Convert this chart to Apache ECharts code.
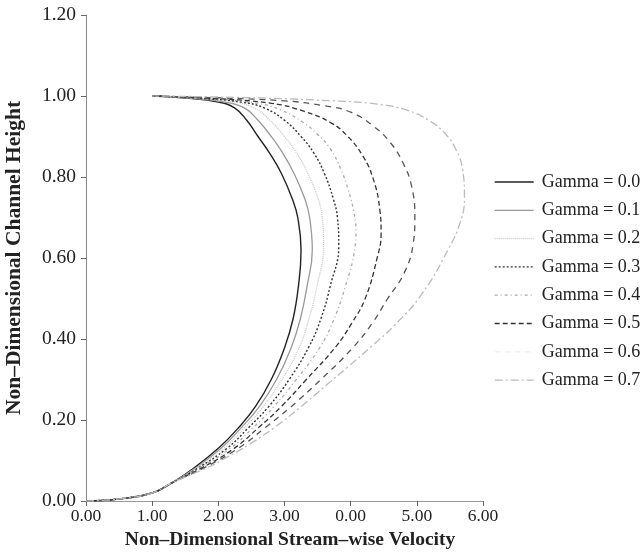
<!DOCTYPE html>
<html>
<head>
<meta charset="utf-8">
<script src="https://cdn.jsdelivr.net/npm/echarts@6/dist/echarts.min.js"></script>
<style>html,body{margin:0;padding:0;background:#fff}#c{width:644px;height:560px}</style>
</head>
<body>
<div id="c"></div>
<script>
var xTickLabels = ['0.00', '1.00', '2.00', '3.00', '0.00', '5.00', '6.00'];
var yTickLabels = ['0.00', '0.20', '0.40', '0.60', '0.80', '1.00', '1.20'];
var seriesNames = ['Gamma = 0.0', 'Gamma = 0.1', 'Gamma = 0.2', 'Gamma = 0.3', 'Gamma = 0.4', 'Gamma = 0.5', 'Gamma = 0.6', 'Gamma = 0.7'];

var gamma00 = [[0,0],[0.5,0.005],[1.0,0.02],[1.3,0.045],[1.62,0.08],[2.0,0.13],[2.3,0.18],[2.56,0.233],[2.8,0.3],[3.0,0.378],[3.13,0.45],[3.21,0.53],[3.25,0.62],[3.2,0.7],[3.12,0.745],[2.95,0.81],[2.77,0.86],[2.6,0.9],[2.43,0.94],[2.25,0.97],[2.0,0.985],[1.5,0.995],[1.0,1.0]];
var gamma01 = [[0,0],[0.5,0.005],[1.0,0.02],[1.3,0.045],[1.64,0.08],[2.04,0.13],[2.34,0.18],[2.62,0.233],[2.88,0.3],[3.1,0.378],[3.24,0.45],[3.34,0.53],[3.42,0.62],[3.38,0.7],[3.31,0.745],[3.14,0.81],[2.97,0.86],[2.8,0.9],[2.6,0.94],[2.4,0.97],[2.1,0.985],[1.55,0.995],[1.0,1.0]];
var gamma02 = [[0,0],[0.5,0.005],[1.0,0.02],[1.3,0.045],[1.66,0.08],[2.08,0.13],[2.39,0.18],[2.68,0.233],[2.96,0.3],[3.22,0.378],[3.37,0.45],[3.49,0.53],[3.59,0.63],[3.57,0.7],[3.51,0.745],[3.35,0.81],[3.18,0.86],[3.0,0.9],[2.78,0.94],[2.55,0.97],[2.25,0.985],[1.6,0.995],[1.0,1.0]];
var gamma03 = [[0,0],[0.5,0.005],[1.0,0.02],[1.3,0.045],[1.68,0.08],[2.13,0.13],[2.45,0.18],[2.76,0.233],[3.07,0.3],[3.36,0.378],[3.55,0.45],[3.69,0.53],[3.82,0.63],[3.8,0.7],[3.74,0.745],[3.6,0.81],[3.44,0.86],[3.25,0.9],[3.0,0.94],[2.7,0.97],[2.35,0.985],[1.65,0.995],[1.0,1.0]];
var gamma04 = [[0,0],[0.5,0.005],[1.0,0.02],[1.3,0.045],[1.7,0.08],[2.18,0.13],[2.52,0.18],[2.84,0.233],[3.18,0.3],[3.53,0.378],[3.75,0.45],[3.92,0.53],[4.06,0.62],[4.08,0.67],[4.04,0.72],[3.96,0.77],[3.85,0.82],[3.69,0.87],[3.5,0.905],[3.28,0.935],[2.95,0.965],[2.55,0.983],[1.7,0.995],[1.0,1.0]];
var gamma05 = [[0,0],[0.5,0.005],[1.0,0.02],[1.3,0.045],[1.73,0.08],[2.24,0.13],[2.6,0.18],[2.95,0.233],[3.33,0.3],[3.76,0.378],[4.02,0.44],[4.22,0.5],[4.4,0.6],[4.46,0.66],[4.44,0.72],[4.34,0.796],[4.18,0.853],[3.94,0.903],[3.69,0.935],[3.3,0.962],[2.8,0.982],[1.8,0.995],[1.0,1.0]];
var gamma06 = [[0,0],[0.5,0.005],[1.0,0.02],[1.3,0.045],[1.76,0.08],[2.3,0.13],[2.7,0.18],[3.1,0.233],[3.55,0.3],[4.03,0.378],[4.33,0.44],[4.56,0.5],[4.8,0.56],[4.94,0.63],[4.97,0.7],[4.92,0.778],[4.79,0.835],[4.6,0.885],[4.34,0.926],[4.0,0.96],[3.6,0.976],[3.0,0.988],[1.9,0.996],[1.0,1.0]];
var gamma07 = [[0,0],[0.5,0.005],[1.0,0.02],[1.3,0.045],[1.8,0.08],[2.13,0.108],[2.48,0.141],[2.85,0.182],[3.25,0.233],[3.66,0.29],[3.95,0.33],[4.33,0.384],[4.67,0.435],[5.08,0.512],[5.47,0.62],[5.66,0.69],[5.72,0.75],[5.69,0.82],[5.6,0.865],[5.44,0.905],[5.2,0.938],[4.85,0.965],[4.4,0.98],[3.74,0.988],[2.4,0.996],[1.0,1.0]];

var allData = [gamma00, gamma01, gamma02, gamma03, gamma04, gamma05, gamma06, gamma07];
var lineStyles = [
  {color:'#222', width:1.4, type:'solid'},
  {color:'#999', width:1.3, type:'solid'},
  {color:'#c8c8c8', width:1.3, type:[1,1]},
  {color:'#333', width:1.4, type:[2,2]},
  {color:'#aaa', width:1.3, type:[3,3,1,3]},
  {color:'#333', width:1.3, type:[5,3]},
  {color:'#555', width:1.3, type:[6,5]},
  {color:'#bbb', width:1.3, type:[8,3,2,3]}
];
var legendLineStyles = lineStyles.slice();
legendLineStyles[6] = {color:'#f0f0f0', width:1.3, type:[6,4]};

var serif = "'Liberation Serif', 'Times New Roman', serif";
var chart = echarts.init(document.getElementById('c'), null, {renderer:'canvas'});
var series = allData.map(function(d, i){
  return {
    name: seriesNames[i], type:'line', data:d, symbol:'none', smooth:0.45,
    lineStyle: lineStyles[i], itemStyle:{color: lineStyles[i].color}, animation:false
  };
});
chart.setOption({
  animation:false,
  grid:{left:86, right:161, top:15, bottom:59, containLabel:false, outerBoundsMode:'none'},
  legend:{
    orient:'vertical', left:489, top:168, itemWidth:39, itemHeight:14, itemGap:10.3,
    textStyle:{fontFamily:serif, fontSize:18, color:'#222', padding:[0,0,0,3]},
    data: seriesNames.map(function(n, i){return {name:n, lineStyle: legendLineStyles[i], itemStyle:{opacity:0}};})
  },
  xAxis:{
    type:'value', min:0, max:6, interval:1,
    name:'Non\u2013Dimensional Stream\u2013wise Velocity', nameLocation:'middle', nameGap:28,
    nameTextStyle:{fontFamily:serif, fontSize:19.5, fontWeight:'bold', color:'#222', padding:[0,0,0,11]},
    axisLine:{show:true, lineStyle:{color:'#999'}},
    axisTick:{show:true, length:5, lineStyle:{color:'#666'}},
    axisLabel:{fontFamily:serif, fontSize:17.5, color:'#222', margin:6, formatter:function(v){return xTickLabels[Math.round(v)];}},
    splitLine:{show:false}
  },
  yAxis:{
    type:'value', min:0, max:1.2, interval:0.2,
    name:'Non\u2013Dimensional Channel Height', nameLocation:'middle', nameGap:61, nameRotate:90,
    nameTextStyle:{fontFamily:serif, fontSize:21.5, fontWeight:'bold', color:'#222'},
    axisLine:{show:true, lineStyle:{color:'#888'}},
    axisTick:{show:true, length:5, lineStyle:{color:'#666'}},
    axisLabel:{fontFamily:serif, fontSize:19.5, color:'#222', margin:10, formatter:function(v){return yTickLabels[Math.round(v/0.2)];}},
    splitLine:{show:false}
  },
  series: series
});
</script>
</body>
</html>
